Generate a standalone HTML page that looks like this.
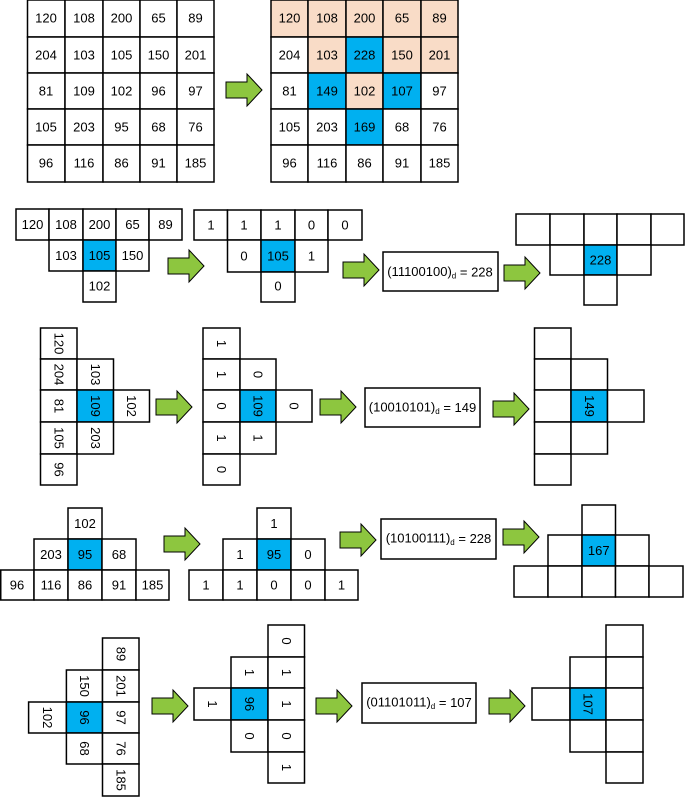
<!DOCTYPE html>
<html><head><meta charset="utf-8"><style>
html,body{margin:0;padding:0;background:#fff;}
svg{display:block;}
rect{stroke:#000;stroke-width:1.5;fill:#fff;}
.p{fill:#f9dcc7;}
.b{fill:#00b0f0;}
text{font-family:"Liberation Sans",sans-serif;font-size:13px;text-anchor:middle;dominant-baseline:central;fill:#000;}
.a{fill:#8dc63f;stroke:#000;stroke-width:1;}
</style></head><body>
<svg width="685" height="797" viewBox="0 0 685 797" xmlns="http://www.w3.org/2000/svg">
<defs><polygon id="ar" class="a" points="0,-8 21,-8 21,-16 36,0 21,16 21,8 0,8"/></defs>

<!-- Grid 1 -->
<g>
<rect x="27.5" y="0" width="37.5" height="37"/><text x="46" y="18">120</text>
<rect x="65" y="0" width="38" height="37"/><text x="84" y="18">108</text>
<rect x="103" y="0" width="37" height="37"/><text x="121.5" y="18">200</text>
<rect x="140" y="0" width="37" height="37"/><text x="158.5" y="18">65</text>
<rect x="177" y="0" width="37" height="37"/><text x="195.5" y="18">89</text>
<rect x="27.5" y="37" width="37.5" height="36"/><text x="46" y="55">204</text>
<rect x="65" y="37" width="38" height="36"/><text x="84" y="55">103</text>
<rect x="103" y="37" width="37" height="36"/><text x="121.5" y="55">105</text>
<rect x="140" y="37" width="37" height="36"/><text x="158.5" y="55">150</text>
<rect x="177" y="37" width="37" height="36"/><text x="195.5" y="55">201</text>
<rect x="27.5" y="73" width="37.5" height="36"/><text x="46" y="91">81</text>
<rect x="65" y="73" width="38" height="36"/><text x="84" y="91">109</text>
<rect x="103" y="73" width="37" height="36"/><text x="121.5" y="91">102</text>
<rect x="140" y="73" width="37" height="36"/><text x="158.5" y="91">96</text>
<rect x="177" y="73" width="37" height="36"/><text x="195.5" y="91">97</text>
<rect x="27.5" y="109" width="37.5" height="36"/><text x="46" y="127">105</text>
<rect x="65" y="109" width="38" height="36"/><text x="84" y="127">203</text>
<rect x="103" y="109" width="37" height="36"/><text x="121.5" y="127">95</text>
<rect x="140" y="109" width="37" height="36"/><text x="158.5" y="127">68</text>
<rect x="177" y="109" width="37" height="36"/><text x="195.5" y="127">76</text>
<rect x="27.5" y="145" width="37.5" height="37"/><text x="46" y="163">96</text>
<rect x="65" y="145" width="38" height="37"/><text x="84" y="163">116</text>
<rect x="103" y="145" width="37" height="37"/><text x="121.5" y="163">86</text>
<rect x="140" y="145" width="37" height="37"/><text x="158.5" y="163">91</text>
<rect x="177" y="145" width="37" height="37"/><text x="195.5" y="163">185</text>
</g>
<use href="#ar" x="226" y="90"/>
<!-- Grid 2 -->
<g>
<rect class="p" x="271" y="0" width="37" height="37"/><text x="289.5" y="18">120</text>
<rect class="p" x="308" y="0" width="38" height="37"/><text x="327" y="18">108</text>
<rect class="p" x="346" y="0" width="37" height="37"/><text x="364.5" y="18">200</text>
<rect class="p" x="383" y="0" width="38" height="37"/><text x="402" y="18">65</text>
<rect class="p" x="421" y="0" width="37" height="37"/><text x="439.5" y="18">89</text>
<rect x="271" y="37" width="37" height="36"/><text x="289.5" y="55">204</text>
<rect class="p" x="308" y="37" width="38" height="36"/><text x="327" y="55">103</text>
<rect class="b" x="346" y="37" width="37" height="36"/><text x="364.5" y="55">228</text>
<rect class="p" x="383" y="37" width="38" height="36"/><text x="402" y="55">150</text>
<rect class="p" x="421" y="37" width="37" height="36"/><text x="439.5" y="55">201</text>
<rect x="271" y="73" width="37" height="36"/><text x="289.5" y="91">81</text>
<rect class="b" x="308" y="73" width="38" height="36"/><text x="327" y="91">149</text>
<rect class="p" x="346" y="73" width="37" height="36"/><text x="364.5" y="91">102</text>
<rect class="b" x="383" y="73" width="38" height="36"/><text x="402" y="91">107</text>
<rect x="421" y="73" width="37" height="36"/><text x="439.5" y="91">97</text>
<rect x="271" y="109" width="37" height="36"/><text x="289.5" y="127">105</text>
<rect x="308" y="109" width="38" height="36"/><text x="327" y="127">203</text>
<rect class="b" x="346" y="109" width="37" height="36"/><text x="364.5" y="127">169</text>
<rect x="383" y="109" width="38" height="36"/><text x="402" y="127">68</text>
<rect x="421" y="109" width="37" height="36"/><text x="439.5" y="127">76</text>
<rect x="271" y="145" width="37" height="37"/><text x="289.5" y="163">96</text>
<rect x="308" y="145" width="38" height="37"/><text x="327" y="163">116</text>
<rect x="346" y="145" width="37" height="37"/><text x="364.5" y="163">86</text>
<rect x="383" y="145" width="38" height="37"/><text x="402" y="163">91</text>
<rect x="421" y="145" width="37" height="37"/><text x="439.5" y="163">185</text>
</g>

<!-- Row 2 -->
<rect x="16" y="209" width="33" height="31"/><text x="32.5" y="224.5">120</text>
<rect x="49" y="209" width="34" height="31"/><text x="66" y="224.5">108</text>
<rect x="83" y="209" width="33" height="31"/><text x="99.5" y="224.5">200</text>
<rect x="116" y="209" width="33" height="31"/><text x="132.5" y="224.5">65</text>
<rect x="149" y="209" width="33" height="31"/><text x="165.5" y="224.5">89</text>
<rect x="49" y="240" width="34" height="31"/><text x="66" y="255.5">103</text>
<rect class="b" x="83" y="240" width="33" height="31"/><text x="99.5" y="255.5">105</text>
<rect x="116" y="240" width="33" height="31"/><text x="132.5" y="255.5">150</text>
<rect x="83" y="271" width="33" height="31"/><text x="99.5" y="286">102</text>
<use href="#ar" x="168" y="266"/>
<rect x="194" y="210" width="33.5" height="30"/><text x="211" y="225">1</text>
<rect x="227.5" y="210" width="33.5" height="30"/><text x="244" y="225">1</text>
<rect x="261" y="210" width="34" height="30"/><text x="278" y="225">1</text>
<rect x="295" y="210" width="33" height="30"/><text x="311.5" y="225">0</text>
<rect x="328" y="210" width="34" height="30"/><text x="345" y="225">0</text>
<rect x="227.5" y="240" width="33.5" height="32"/><text x="244" y="256">0</text>
<rect class="b" x="261" y="240" width="34" height="32"/><text x="278" y="256">105</text>
<rect x="295" y="240" width="33" height="32"/><text x="311.5" y="256">1</text>
<rect x="261" y="272" width="34" height="30"/><text x="278" y="286">0</text>
<use href="#ar" x="343" y="270"/>
<rect x="383" y="252" width="115" height="39"/><text x="440" y="271.5">(11100100)<tspan font-size="8" dy="4">d</tspan><tspan dy="-4"> = 228</tspan></text>
<use href="#ar" x="504" y="273"/>
<rect x="516" y="214" width="34" height="31"/>
<rect x="550" y="214" width="34" height="31"/>
<rect x="584" y="214" width="33" height="31"/>
<rect x="617" y="214" width="34" height="31"/>
<rect x="651" y="214" width="33" height="31"/>
<rect x="550" y="245" width="34" height="30"/>
<rect class="b" x="584" y="245" width="33" height="30"/><text x="600.5" y="260">228</text>
<rect x="617" y="245" width="34" height="30"/>
<rect x="584" y="275" width="33" height="30"/>

<!-- Row 3 -->
<g>
<rect x="40.5" y="328" width="36.5" height="31"/><text x="58.75" y="343.5" transform="rotate(90 58.75 343.5)">120</text>
<rect x="40.5" y="359" width="36.5" height="31"/><text x="58.75" y="374.5" transform="rotate(90 58.75 374.5)">204</text>
<rect x="40.5" y="390" width="36.5" height="32"/><text x="58.75" y="406" transform="rotate(90 58.75 406)">81</text>
<rect x="40.5" y="422" width="36.5" height="32"/><text x="58.75" y="438" transform="rotate(90 58.75 438)">105</text>
<rect x="40.5" y="454" width="36.5" height="31"/><text x="58.75" y="469.5" transform="rotate(90 58.75 469.5)">96</text>
<rect x="77" y="359" width="36.5" height="31"/><text x="95.25" y="374.5" transform="rotate(90 95.25 374.5)">103</text>
<rect class="b" x="77" y="390" width="36.5" height="32"/><text x="95.25" y="406" transform="rotate(90 95.25 406)">109</text>
<rect x="77" y="422" width="36.5" height="32"/><text x="95.25" y="438" transform="rotate(90 95.25 438)">203</text>
<rect x="113.5" y="390" width="36" height="32"/><text x="131.5" y="406" transform="rotate(90 131.5 406)">102</text>
</g>
<use href="#ar" x="156" y="407"/>
<g>
<rect x="203" y="328" width="37" height="31"/><text x="221.5" y="343.5" transform="rotate(90 221.5 343.5)">1</text>
<rect x="203" y="359" width="37" height="31"/><text x="221.5" y="374.5" transform="rotate(90 221.5 374.5)">1</text>
<rect x="203" y="390" width="37" height="32"/><text x="221.5" y="406" transform="rotate(90 221.5 406)">0</text>
<rect x="203" y="422" width="37" height="32"/><text x="221.5" y="438" transform="rotate(90 221.5 438)">1</text>
<rect x="203" y="454" width="37" height="31"/><text x="221.5" y="469.5" transform="rotate(90 221.5 469.5)">0</text>
<rect x="240" y="359" width="36" height="31"/><text x="258" y="374.5" transform="rotate(90 258 374.5)">0</text>
<rect class="b" x="240" y="390" width="36" height="32"/><text x="258" y="406" transform="rotate(90 258 406)">109</text>
<rect x="240" y="422" width="36" height="32"/><text x="258" y="438" transform="rotate(90 258 438)">1</text>
<rect x="276" y="390" width="36" height="32"/><text x="294" y="406" transform="rotate(90 294 406)">0</text>
</g>
<use href="#ar" x="320" y="407"/>
<rect x="365" y="388" width="115" height="39"/><text x="422.5" y="407">(10010101)<tspan font-size="8" dy="4">d</tspan><tspan dy="-4"> = 149</tspan></text>
<use href="#ar" x="493" y="409"/>
<rect x="534.5" y="328" width="36.5" height="31"/>
<rect x="534.5" y="359" width="36.5" height="31"/>
<rect x="534.5" y="390" width="36.5" height="32"/>
<rect x="534.5" y="422" width="36.5" height="32"/>
<rect x="534.5" y="454" width="36.5" height="31"/>
<rect x="571" y="359" width="36.5" height="31"/>
<rect class="b" x="571" y="390" width="36.5" height="32"/><text x="589.25" y="406" transform="rotate(90 589.25 406)">149</text>
<rect x="571" y="422" width="36.5" height="32"/>
<rect x="607.5" y="390" width="36.5" height="32"/>

<!-- Row 4 -->
<rect x="68" y="508" width="34" height="31"/><text x="85" y="523.5">102</text>
<rect x="34" y="539" width="34" height="31"/><text x="51" y="554.5">203</text>
<rect class="b" x="68" y="539" width="34" height="31"/><text x="85" y="554.5">95</text>
<rect x="102" y="539" width="34" height="31"/><text x="119" y="554.5">68</text>
<rect x="0.75" y="570" width="33.25" height="30"/><text x="17" y="585">96</text>
<rect x="34" y="570" width="34" height="30"/><text x="51" y="585">116</text>
<rect x="68" y="570" width="34" height="30"/><text x="85" y="585">86</text>
<rect x="102" y="570" width="34" height="30"/><text x="119" y="585">91</text>
<rect x="136" y="570" width="33" height="30"/><text x="152.5" y="585">185</text>
<use href="#ar" x="164" y="544"/>
<rect x="257" y="508" width="34" height="31"/><text x="274" y="523.5">1</text>
<rect x="223" y="539" width="34" height="31"/><text x="240" y="554.5">1</text>
<rect class="b" x="257" y="539" width="34" height="31"/><text x="274" y="554.5">95</text>
<rect x="291" y="539" width="34" height="31"/><text x="308" y="554.5">0</text>
<rect x="189" y="570" width="34" height="30"/><text x="206" y="585">1</text>
<rect x="223" y="570" width="34" height="30"/><text x="240" y="585">1</text>
<rect x="257" y="570" width="34" height="30"/><text x="274" y="585">0</text>
<rect x="291" y="570" width="34" height="30"/><text x="308" y="585">0</text>
<rect x="325" y="570" width="33" height="30"/><text x="341.5" y="585">1</text>
<use href="#ar" x="340" y="540"/>
<rect x="381" y="519" width="115" height="40"/><text x="438.5" y="538">(10100111)<tspan font-size="8" dy="4">d</tspan><tspan dy="-4"> = 228</tspan></text>
<use href="#ar" x="503" y="537"/>
<rect x="582" y="505" width="33.5" height="30"/>
<rect x="548" y="535" width="34" height="31"/>
<rect class="b" x="582" y="535" width="33.5" height="31"/><text x="598.75" y="550.5">167</text>
<rect x="615.5" y="535" width="33.5" height="31"/>
<rect x="514" y="566" width="34" height="31"/>
<rect x="548" y="566" width="34" height="31"/>
<rect x="582" y="566" width="33.5" height="31"/>
<rect x="615.5" y="566" width="33.5" height="31"/>
<rect x="649" y="566" width="34" height="31"/>

<!-- Row 5 -->
<g>
<rect x="28.6" y="702" width="37.8" height="31"/><text x="47.5" y="717.5" transform="rotate(90 47.5 717.5)">102</text>
<rect x="66.4" y="670" width="36.1" height="32"/><text x="84.5" y="686" transform="rotate(90 84.5 686)">150</text>
<rect class="b" x="66.4" y="702" width="36.1" height="31"/><text x="84.5" y="717.5" transform="rotate(90 84.5 717.5)">96</text>
<rect x="66.4" y="733" width="36.1" height="31"/><text x="84.5" y="748.5" transform="rotate(90 84.5 748.5)">68</text>
<rect x="102.5" y="638" width="36.5" height="32"/><text x="120.75" y="654" transform="rotate(90 120.75 654)">89</text>
<rect x="102.5" y="670" width="36.5" height="32"/><text x="120.75" y="686" transform="rotate(90 120.75 686)">201</text>
<rect x="102.5" y="702" width="36.5" height="31"/><text x="120.75" y="717.5" transform="rotate(90 120.75 717.5)">97</text>
<rect x="102.5" y="733" width="36.5" height="31"/><text x="120.75" y="748.5" transform="rotate(90 120.75 748.5)">76</text>
<rect x="102.5" y="764" width="36.5" height="32"/><text x="120.75" y="780" transform="rotate(90 120.75 780)">185</text>
</g>
<use href="#ar" x="152" y="706"/>
<g>
<rect x="194" y="688" width="37" height="32"/><text x="212.5" y="704" transform="rotate(90 212.5 704)">1</text>
<rect x="231" y="657" width="37" height="31"/><text x="249.5" y="672.5" transform="rotate(90 249.5 672.5)">1</text>
<rect class="b" x="231" y="688" width="37" height="32"/><text x="249.5" y="704" transform="rotate(90 249.5 704)">96</text>
<rect x="231" y="720" width="37" height="32"/><text x="249.5" y="736" transform="rotate(90 249.5 736)">0</text>
<rect x="268" y="625" width="36.5" height="32"/><text x="286.25" y="641" transform="rotate(90 286.25 641)">0</text>
<rect x="268" y="657" width="36.5" height="31"/><text x="286.25" y="672.5" transform="rotate(90 286.25 672.5)">1</text>
<rect x="268" y="688" width="36.5" height="32"/><text x="286.25" y="704" transform="rotate(90 286.25 704)">1</text>
<rect x="268" y="720" width="36.5" height="32"/><text x="286.25" y="736" transform="rotate(90 286.25 736)">0</text>
<rect x="268" y="752" width="36.5" height="31"/><text x="286.25" y="767.5" transform="rotate(90 286.25 767.5)">1</text>
</g>
<use href="#ar" x="316" y="706"/>
<rect x="362" y="683" width="114" height="40"/><text x="419" y="702">(01101011)<tspan font-size="8" dy="4">d</tspan><tspan dy="-4"> = 107</tspan></text>
<use href="#ar" x="489" y="706"/>
<rect x="532" y="688" width="38" height="32"/>
<rect x="570" y="657" width="36" height="31"/>
<rect class="b" x="570" y="688" width="36" height="32"/><text x="588" y="704" transform="rotate(90 588 704)">107</text>
<rect x="570" y="720" width="36" height="32"/>
<rect x="606" y="625" width="37" height="32"/>
<rect x="606" y="657" width="37" height="31"/>
<rect x="606" y="688" width="37" height="32"/>
<rect x="606" y="720" width="37" height="32"/>
<rect x="606" y="752" width="37" height="31"/>
</svg>
</body></html>
